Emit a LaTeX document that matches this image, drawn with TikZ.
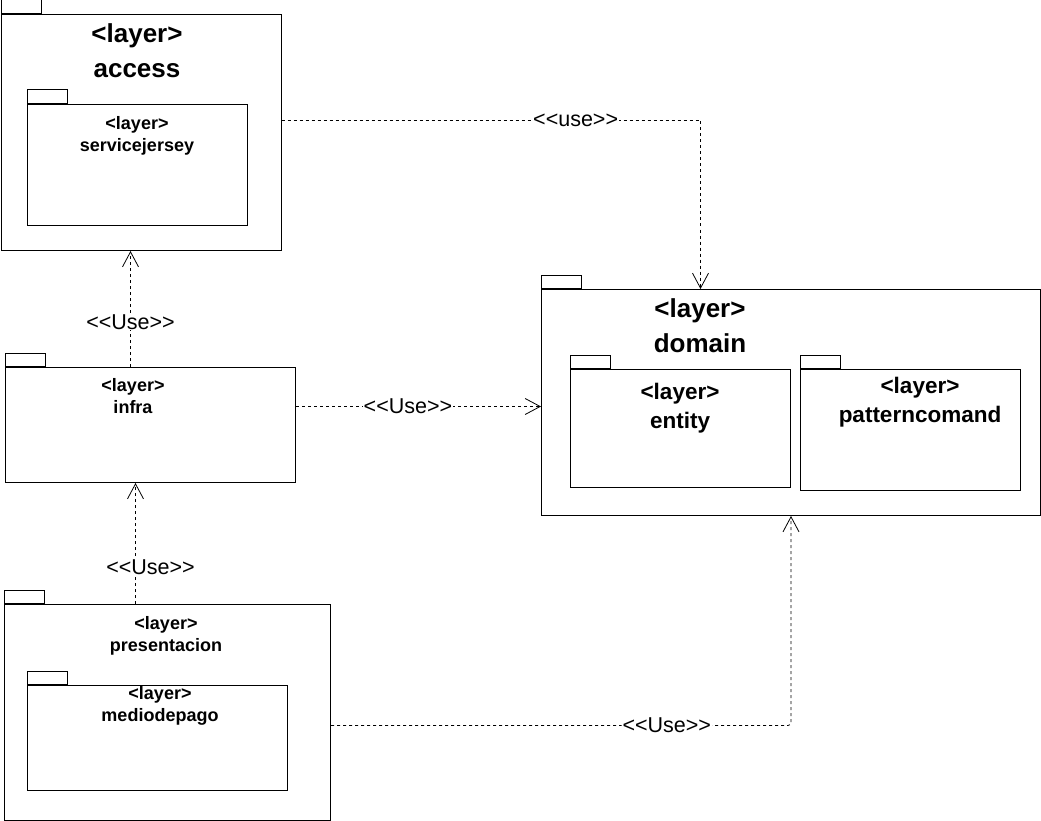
\documentclass[tikz,border=0pt]{standalone}
\usepackage{fontspec}
\setmainfont{Liberation Sans}[Ligatures=TeXOff]
\usetikzlibrary{arrows.meta}

\tikzset{
	pkg/.style={draw, line width=1pt, inner sep=0pt, anchor=north west},
	pkgtab/.style={draw, line width=1pt, inner sep=0pt, anchor=south west, minimum width=40pt, minimum height=13.5pt},
	bigname/.style={anchor=north, align=center, inner sep=0pt, font=\fontsize{26}{35}\selectfont\bfseries},
	midname/.style={anchor=north, align=center, inner sep=0pt, font=\fontsize{22.5}{29}\selectfont\bfseries},
	smallname/.style={anchor=north, align=center, inner sep=0pt, font=\fontsize{18}{22}\selectfont\bfseries},
	uses/.style={line width=0.8pt, dash pattern=on 3pt off 3pt, -{Straight Barb[length=15pt,width=16pt]}},
	uselabel/.style={fill=white, inner sep=1pt, font=\fontsize{21.5}{24}\selectfont}
}

\begin{document}
\begin{tikzpicture}[x=1pt,y=-1pt]
	\useasboundingbox (0,0) rectangle (1041,821);

	\node [pkg, minimum width=280pt, minimum height=236pt] (access) at (0.5,14) {};
	\node [pkgtab] (accesstab) at (access.north west) {};
	\node [bigname] (accesstext) at (137,23.4) {<layer>\\access};
	\node [pkg, minimum width=220pt, minimum height=121pt] (jersey) at (27,104) {};
	\node [pkgtab] (jerseytab) at (jersey.north west) {};
	\node [smallname] (jerseytext) at (137,116.1) {<layer>\\servicejersey};

	\node [pkg, minimum width=499pt, minimum height=226pt] (domain) at (541,289) {};
	\node [pkgtab] (domaintab) at (domain.north west) {};
	\node [bigname] (domaintext) at (700,298.4) {<layer>\\domain};
	\node [pkg, minimum width=220pt, minimum height=118pt] (entity) at (570,369) {};
	\node [pkgtab] (entitytab) at (entity.north west) {};
	\node [midname] (entitytext) at (680,382.9) {<layer>\\entity};
	\node [pkg, minimum width=220pt, minimum height=121pt] (comand) at (800,369) {};
	\node [pkgtab] (comandtab) at (comand.north west) {};
	\node [midname] (comandtext) at (920,376.9) {<layer>\\patterncomand};

	\node [pkg, minimum width=290pt, minimum height=115pt] (infra) at (5,367) {};
	\node [pkgtab] (infratab) at (infra.north west) {};
	\node [smallname] (infratext) at (133,378.1) {<layer>\\infra};

	\node [pkg, minimum width=326pt, minimum height=216pt] (presentacion) at (4,604) {};
	\node [pkgtab] (presentaciontab) at (presentacion.north west) {};
	\node [smallname] (presentaciontext) at (166,616.1) {<layer>\\presentacion};
	\node [pkg, minimum width=260pt, minimum height=105pt] (pago) at (27,685) {};
	\node [pkgtab] (pagotab) at (pago.north west) {};
	\node [smallname] (pagotext) at (160,686.1) {<layer>\\mediodepago};

	\coordinate (infraout) at ([yshift=18.5pt]infra.east);

	\draw [uses] ([yshift=12pt]access.east) -| node [uselabel, pos=0.351] {<<use>>} ([xshift=-90.5pt]domain.north);
	\draw [uses] ([xshift=-20pt]infra.north) -- node [uselabel, pos=0.39] {<<Use>>} ([xshift=-20pt]infra.north |- access.south);
	\draw [uses] (infraout) -- node [uselabel, pos=0.457] {<<Use>>} (infraout -| domain.west);
	\draw [uses] ([xshift=-32pt]presentacion.north) -- node [uselabel, pos=0.3, xshift=15pt] {<<Use>>} ([xshift=-32pt]presentacion.north |- infra.south);
	\draw [uses, rounded corners=3pt] ([yshift=-13pt]presentacion.east) -| node [uselabel, pos=0.365] {<<Use>>} (domain.south);
\end{tikzpicture}
\end{document}
